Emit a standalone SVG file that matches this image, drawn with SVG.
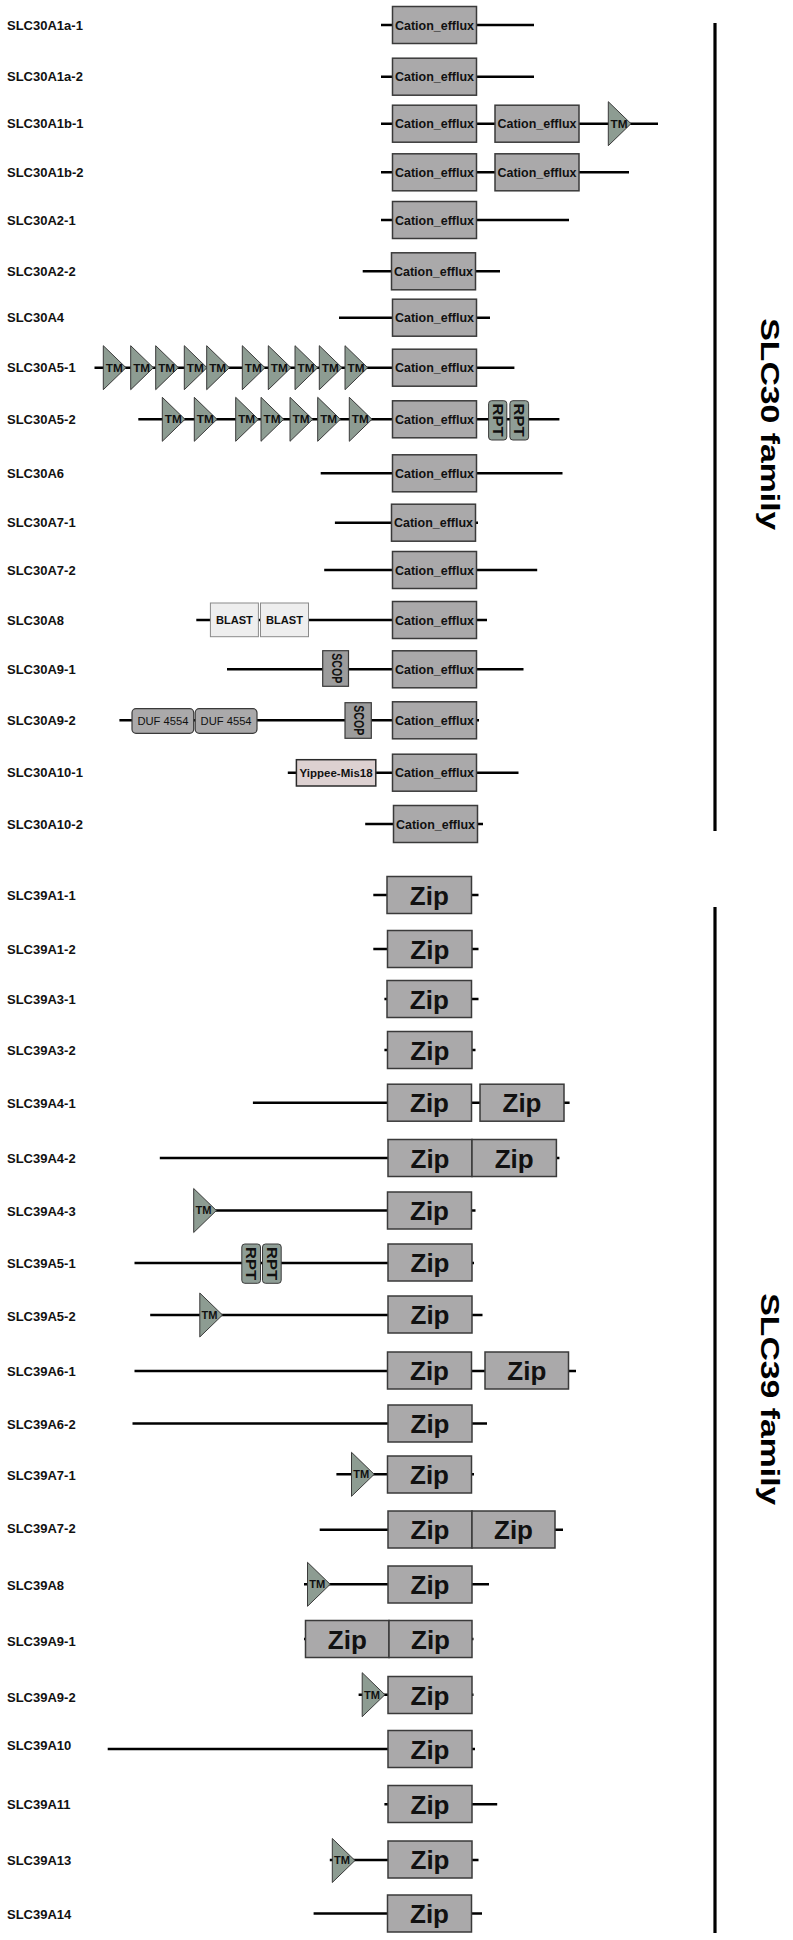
<svg xmlns="http://www.w3.org/2000/svg" xmlns:xlink="http://www.w3.org/1999/xlink" width="793" height="1940" viewBox="0 0 793 1940">
<style>
.lbl{font-family:"Liberation Sans",Arial,sans-serif;font-weight:bold;font-size:13px;fill:#111}
.bx{fill:#aaa9aa;stroke:#3a3a3a;stroke-width:1.5}
.ce{font-family:"Liberation Sans",Arial,sans-serif;font-weight:bold;font-size:12.5px;fill:#111;text-anchor:middle}
.zip{font-family:"Liberation Sans",Arial,sans-serif;font-weight:bold;font-size:26px;fill:#111;text-anchor:middle}
.ln{stroke:#000;stroke-width:2.6;fill:none}
.tm{fill:#8d9c92;stroke:#3a3a3a;stroke-width:1}
.tmt{font-family:"Liberation Sans",Arial,sans-serif;font-weight:bold;font-size:10.5px;fill:#111}
.rpt{fill:#8f9e96;stroke:#3a3a3a;stroke-width:1}
.rt{font-family:"Liberation Sans",Arial,sans-serif;font-weight:bold;font-size:14px;fill:#111}
.sm{font-family:"Liberation Sans",Arial,sans-serif;font-size:11px;fill:#111;text-anchor:middle}
.fam{font-family:"Liberation Sans",Arial,sans-serif;font-weight:bold;font-size:26px;fill:#000}
.bar{stroke:#000;stroke-width:3.2}
</style>
<defs>
<path id="tri" d="M0,-22 L22.7,0 L0,22 Z"/>
</defs>
<rect width="793" height="1940" fill="#fff"/>
<g id="connectors">
<line class="ln" x1="381" y1="25" x2="534" y2="25"/>
<line class="ln" x1="381" y1="76.7" x2="534" y2="76.7"/>
<line class="ln" x1="381" y1="123.7" x2="658" y2="123.7"/>
<line class="ln" x1="381" y1="172.3" x2="629" y2="172.3"/>
<line class="ln" x1="381" y1="220" x2="569" y2="220"/>
<line class="ln" x1="362.7" y1="271.3" x2="500" y2="271.3"/>
<line class="ln" x1="339" y1="317.7" x2="490" y2="317.7"/>
<line class="ln" x1="94.5" y1="367.7" x2="514.4" y2="367.7"/>
<line class="ln" x1="138.3" y1="419.3" x2="559.4" y2="419.3"/>
<line class="ln" x1="320.7" y1="473.3" x2="562.5" y2="473.3"/>
<line class="ln" x1="334.9" y1="522.7" x2="478" y2="522.7"/>
<line class="ln" x1="324.2" y1="570" x2="537.2" y2="570"/>
<line class="ln" x1="196.3" y1="620" x2="487" y2="620"/>
<line class="ln" x1="227" y1="669.3" x2="523.5" y2="669.3"/>
<line class="ln" x1="119.4" y1="720.3" x2="479" y2="720.3"/>
<line class="ln" x1="287.8" y1="772.7" x2="518.5" y2="772.7"/>
<line class="ln" x1="365.2" y1="824" x2="483" y2="824"/>
<line class="ln" x1="373.3" y1="895" x2="478.5" y2="895"/>
<line class="ln" x1="373.3" y1="949" x2="478.5" y2="949"/>
<line class="ln" x1="384.4" y1="999" x2="478.5" y2="999"/>
<line class="ln" x1="384.4" y1="1050" x2="475.5" y2="1050"/>
<line class="ln" x1="252.9" y1="1102.7" x2="569.6" y2="1102.7"/>
<line class="ln" x1="159.8" y1="1158" x2="559.4" y2="1158"/>
<line class="ln" x1="193.7" y1="1210.5" x2="475.5" y2="1210.5"/>
<line class="ln" x1="134.5" y1="1263" x2="474" y2="1263"/>
<line class="ln" x1="150.2" y1="1315" x2="482.5" y2="1315"/>
<line class="ln" x1="134.5" y1="1371" x2="576" y2="1371"/>
<line class="ln" x1="132.5" y1="1423.5" x2="487" y2="1423.5"/>
<line class="ln" x1="336.4" y1="1474.3" x2="474" y2="1474.3"/>
<line class="ln" x1="319.7" y1="1529.7" x2="563" y2="1529.7"/>
<line class="ln" x1="304" y1="1584.3" x2="489" y2="1584.3"/>
<line class="ln" x1="304" y1="1639" x2="473.5" y2="1639"/>
<line class="ln" x1="358.6" y1="1694.7" x2="473.5" y2="1694.7"/>
<line class="ln" x1="107.7" y1="1749" x2="475" y2="1749"/>
<line class="ln" x1="384.4" y1="1804.3" x2="497.2" y2="1804.3"/>
<line class="ln" x1="329.8" y1="1860" x2="478.5" y2="1860"/>
<line class="ln" x1="313.6" y1="1913.5" x2="482" y2="1913.5"/>
</g>

<g id="SLC30A1a-1">
<text class="lbl" x="7" y="29.5">SLC30A1a-1</text>
<rect class="bx" x="392.5" y="6.5" width="84" height="37"/>
<text class="ce" x="434.5" y="29.5" textLength="79" lengthAdjust="spacingAndGlyphs">Cation_efflux</text>
</g>
<g id="SLC30A1a-2">
<text class="lbl" x="7" y="81.2">SLC30A1a-2</text>
<rect class="bx" x="392.5" y="58.2" width="84" height="37"/>
<text class="ce" x="434.5" y="81.2" textLength="79" lengthAdjust="spacingAndGlyphs">Cation_efflux</text>
</g>
<g id="SLC30A1b-1">
<text class="lbl" x="7" y="128.2">SLC30A1b-1</text>
<rect class="bx" x="392.5" y="105.2" width="84" height="37"/>
<text class="ce" x="434.5" y="128.2" textLength="79" lengthAdjust="spacingAndGlyphs">Cation_efflux</text>
<rect class="bx" x="495" y="105.2" width="84" height="37"/>
<text class="ce" x="537" y="128.2" textLength="79" lengthAdjust="spacingAndGlyphs">Cation_efflux</text>
<use href="#tri" class="tm" x="608.3" y="123.7"/>
<text class="tmt" x="610.5" y="127.7" textLength="17" lengthAdjust="spacingAndGlyphs">TM</text>
</g>
<g id="SLC30A1b-2">
<text class="lbl" x="7" y="176.8">SLC30A1b-2</text>
<rect class="bx" x="392.5" y="153.8" width="84" height="37"/>
<text class="ce" x="434.5" y="176.8" textLength="79" lengthAdjust="spacingAndGlyphs">Cation_efflux</text>
<rect class="bx" x="495" y="153.8" width="84" height="37"/>
<text class="ce" x="537" y="176.8" textLength="79" lengthAdjust="spacingAndGlyphs">Cation_efflux</text>
</g>
<g id="SLC30A2-1">
<text class="lbl" x="7" y="224.5">SLC30A2-1</text>
<rect class="bx" x="392.5" y="201.5" width="84" height="37"/>
<text class="ce" x="434.5" y="224.5" textLength="79" lengthAdjust="spacingAndGlyphs">Cation_efflux</text>
</g>
<g id="SLC30A2-2">
<text class="lbl" x="7" y="275.8">SLC30A2-2</text>
<rect class="bx" x="391.5" y="252.8" width="84" height="37"/>
<text class="ce" x="433.5" y="275.8" textLength="79" lengthAdjust="spacingAndGlyphs">Cation_efflux</text>
</g>
<g id="SLC30A4">
<text class="lbl" x="7" y="322.2">SLC30A4</text>
<rect class="bx" x="392.5" y="299.2" width="84" height="37"/>
<text class="ce" x="434.5" y="322.2" textLength="79" lengthAdjust="spacingAndGlyphs">Cation_efflux</text>
</g>
<g id="SLC30A5-1">
<text class="lbl" x="7" y="372.2">SLC30A5-1</text>
<use href="#tri" class="tm" x="103.3" y="367.7"/><text class="tmt" x="105.8" y="371.7" textLength="17" lengthAdjust="spacingAndGlyphs">TM</text>
<use href="#tri" class="tm" x="130.7" y="367.7"/><text class="tmt" x="133.2" y="371.7" textLength="17" lengthAdjust="spacingAndGlyphs">TM</text>
<use href="#tri" class="tm" x="155.7" y="367.7"/><text class="tmt" x="158.2" y="371.7" textLength="17" lengthAdjust="spacingAndGlyphs">TM</text>
<use href="#tri" class="tm" x="184.3" y="367.7"/><text class="tmt" x="186.8" y="371.7" textLength="17" lengthAdjust="spacingAndGlyphs">TM</text>
<use href="#tri" class="tm" x="206.7" y="367.7"/><text class="tmt" x="209.2" y="371.7" textLength="17" lengthAdjust="spacingAndGlyphs">TM</text>
<use href="#tri" class="tm" x="242.3" y="367.7"/><text class="tmt" x="244.8" y="371.7" textLength="17" lengthAdjust="spacingAndGlyphs">TM</text>
<use href="#tri" class="tm" x="268.3" y="367.7"/><text class="tmt" x="270.8" y="371.7" textLength="17" lengthAdjust="spacingAndGlyphs">TM</text>
<use href="#tri" class="tm" x="295" y="367.7"/><text class="tmt" x="297.5" y="371.7" textLength="17" lengthAdjust="spacingAndGlyphs">TM</text>
<use href="#tri" class="tm" x="319.3" y="367.7"/><text class="tmt" x="321.8" y="371.7" textLength="17" lengthAdjust="spacingAndGlyphs">TM</text>
<use href="#tri" class="tm" x="345" y="367.7"/><text class="tmt" x="347.5" y="371.7" textLength="17" lengthAdjust="spacingAndGlyphs">TM</text>
<rect class="bx" x="392.5" y="349.2" width="84" height="37"/>
<text class="ce" x="434.5" y="372.2" textLength="79" lengthAdjust="spacingAndGlyphs">Cation_efflux</text>
</g>
<g id="SLC30A5-2">
<text class="lbl" x="7" y="423.8">SLC30A5-2</text>
<use href="#tri" class="tm" x="162.3" y="419.3"/><text class="tmt" x="164.8" y="423.3" textLength="17" lengthAdjust="spacingAndGlyphs">TM</text>
<use href="#tri" class="tm" x="194.3" y="419.3"/><text class="tmt" x="196.8" y="423.3" textLength="17" lengthAdjust="spacingAndGlyphs">TM</text>
<use href="#tri" class="tm" x="235.7" y="419.3"/><text class="tmt" x="238.2" y="423.3" textLength="17" lengthAdjust="spacingAndGlyphs">TM</text>
<use href="#tri" class="tm" x="261" y="419.3"/><text class="tmt" x="263.5" y="423.3" textLength="17" lengthAdjust="spacingAndGlyphs">TM</text>
<use href="#tri" class="tm" x="290" y="419.3"/><text class="tmt" x="292.5" y="423.3" textLength="17" lengthAdjust="spacingAndGlyphs">TM</text>
<use href="#tri" class="tm" x="317.7" y="419.3"/><text class="tmt" x="320.2" y="423.3" textLength="17" lengthAdjust="spacingAndGlyphs">TM</text>
<use href="#tri" class="tm" x="349.3" y="419.3"/><text class="tmt" x="351.8" y="423.3" textLength="17" lengthAdjust="spacingAndGlyphs">TM</text>
<rect class="bx" x="392.5" y="400.8" width="84" height="37"/>
<text class="ce" x="434.5" y="423.8" textLength="79" lengthAdjust="spacingAndGlyphs">Cation_efflux</text>
<rect class="rpt" x="488.6" y="400.7" width="18.2" height="39.3" rx="3"/>
<text class="rt" transform="translate(492.8,403.5) rotate(90)" textLength="33" lengthAdjust="spacingAndGlyphs">RPT</text>
<rect class="rpt" x="509.9" y="400.7" width="18.7" height="39.3" rx="3"/>
<text class="rt" transform="translate(514.3,403.5) rotate(90)" textLength="33" lengthAdjust="spacingAndGlyphs">RPT</text>
</g>
<g id="SLC30A6">
<text class="lbl" x="7" y="477.8">SLC30A6</text>
<rect class="bx" x="392.5" y="454.8" width="84" height="37"/>
<text class="ce" x="434.5" y="477.8" textLength="79" lengthAdjust="spacingAndGlyphs">Cation_efflux</text>
</g>
<g id="SLC30A7-1">
<text class="lbl" x="7" y="527.2">SLC30A7-1</text>
<rect class="bx" x="391.5" y="504.2" width="84" height="37"/>
<text class="ce" x="433.5" y="527.2" textLength="79" lengthAdjust="spacingAndGlyphs">Cation_efflux</text>
</g>
<g id="SLC30A7-2">
<text class="lbl" x="7" y="574.5">SLC30A7-2</text>
<rect class="bx" x="392.5" y="551.5" width="84" height="37"/>
<text class="ce" x="434.5" y="574.5" textLength="79" lengthAdjust="spacingAndGlyphs">Cation_efflux</text>
</g>
<g id="SLC30A8">
<text class="lbl" x="7" y="624.5">SLC30A8</text>
<rect x="210.4" y="603" width="48" height="33.7" fill="#eeeeee" stroke="#8a8a8a" stroke-width="1"/>
<text class="sm" x="234.4" y="624" font-weight="bold" textLength="37" lengthAdjust="spacingAndGlyphs">BLAST</text>
<rect x="260.5" y="603" width="48" height="33.7" fill="#eeeeee" stroke="#8a8a8a" stroke-width="1"/>
<text class="sm" x="284.5" y="624" font-weight="bold" textLength="37" lengthAdjust="spacingAndGlyphs">BLAST</text>
<rect class="bx" x="392.5" y="601.5" width="84" height="37"/>
<text class="ce" x="434.5" y="624.5" textLength="79" lengthAdjust="spacingAndGlyphs">Cation_efflux</text>
</g>
<g id="SLC30A9-1">
<text class="lbl" x="7" y="673.8">SLC30A9-1</text>
<rect x="322.7" y="650.7" width="25.8" height="35.6" fill="#9c9c9c" stroke="#3a3a3a" stroke-width="1.2"/>
<text class="rt" font-size="12" transform="translate(331.5,653.3) rotate(90)" textLength="30" lengthAdjust="spacingAndGlyphs">SCOP</text>
<rect class="bx" x="392.5" y="650.8" width="84" height="37"/>
<text class="ce" x="434.5" y="673.8" textLength="79" lengthAdjust="spacingAndGlyphs">Cation_efflux</text>
</g>
<g id="SLC30A9-2">
<text class="lbl" x="7" y="724.8">SLC30A9-2</text>
<rect x="132" y="708.7" width="61.7" height="24.6" rx="4" fill="#aaa9aa" stroke="#3a3a3a" stroke-width="1.2"/>
<text class="sm" x="162.9" y="724.8" textLength="51" lengthAdjust="spacingAndGlyphs">DUF 4554</text>
<rect x="195.2" y="708.7" width="61.8" height="24.6" rx="4" fill="#aaa9aa" stroke="#3a3a3a" stroke-width="1.2"/>
<text class="sm" x="226.1" y="724.8" textLength="51" lengthAdjust="spacingAndGlyphs">DUF 4554</text>
<rect x="345" y="702.7" width="26.3" height="35.6" fill="#9c9c9c" stroke="#3a3a3a" stroke-width="1.2"/>
<text class="rt" font-size="12" transform="translate(354,705.3) rotate(90)" textLength="30" lengthAdjust="spacingAndGlyphs">SCOP</text>
<rect class="bx" x="392.5" y="701.8" width="84" height="37"/>
<text class="ce" x="434.5" y="724.8" textLength="79" lengthAdjust="spacingAndGlyphs">Cation_efflux</text>
</g>
<g id="SLC30A10-1">
<text class="lbl" x="7" y="777.2">SLC30A10-1</text>
<rect x="296.4" y="759.7" width="79.4" height="26.3" fill="#ddd1d1" stroke="#2a2a2a" stroke-width="1.5"/>
<text class="sm" x="336.1" y="777" font-size="12" font-weight="bold" textLength="73" lengthAdjust="spacingAndGlyphs">Yippee-Mis18</text>
<rect class="bx" x="392.5" y="754.2" width="84" height="37"/>
<text class="ce" x="434.5" y="777.2" textLength="79" lengthAdjust="spacingAndGlyphs">Cation_efflux</text>
</g>
<g id="SLC30A10-2">
<text class="lbl" x="7" y="828.5">SLC30A10-2</text>
<rect class="bx" x="393.5" y="805.5" width="84" height="37"/>
<text class="ce" x="435.5" y="828.5" textLength="79" lengthAdjust="spacingAndGlyphs">Cation_efflux</text>
</g>

<g id="SLC39A1-1">
<text class="lbl" x="7" y="900">SLC39A1-1</text>
<rect class="bx" x="387" y="876.5" width="84.5" height="37"/>
<text class="zip" x="429.3" y="904.5">Zip</text>
</g>
<g id="SLC39A1-2">
<text class="lbl" x="7" y="954">SLC39A1-2</text>
<rect class="bx" x="387.5" y="930.5" width="84.5" height="37"/>
<text class="zip" x="429.8" y="958.5">Zip</text>
</g>
<g id="SLC39A3-1">
<text class="lbl" x="7" y="1003.5">SLC39A3-1</text>
<rect class="bx" x="387" y="980.5" width="84.5" height="37"/>
<text class="zip" x="429.3" y="1008.5">Zip</text>
</g>
<g id="SLC39A3-2">
<text class="lbl" x="7" y="1054.5">SLC39A3-2</text>
<rect class="bx" x="387.5" y="1031.5" width="84.5" height="37"/>
<text class="zip" x="429.8" y="1059.5">Zip</text>
</g>
<g id="SLC39A4-1">
<text class="lbl" x="7" y="1107.5">SLC39A4-1</text>
<rect class="bx" x="387.5" y="1084.2" width="84" height="37"/>
<text class="zip" x="429.5" y="1112.2">Zip</text>
<rect class="bx" x="480" y="1084.2" width="84" height="37"/>
<text class="zip" x="522" y="1112.2">Zip</text>
</g>
<g id="SLC39A4-2">
<text class="lbl" x="7" y="1162.5">SLC39A4-2</text>
<rect class="bx" x="388" y="1139.5" width="84" height="37"/>
<text class="zip" x="430" y="1167.5">Zip</text>
<rect class="bx" x="472" y="1139.5" width="84.4" height="37"/>
<text class="zip" x="514.2" y="1167.5">Zip</text>
</g>
<g id="SLC39A4-3">
<text class="lbl" x="7" y="1215.5">SLC39A4-3</text>
<use href="#tri" class="tm" x="193.7" y="1210.5"/><text class="tmt" x="195.5" y="1214.3" font-weight="normal" textLength="16" lengthAdjust="spacingAndGlyphs">TM</text>
<rect class="bx" x="387.5" y="1192" width="84" height="37"/>
<text class="zip" x="429.5" y="1220">Zip</text>
</g>
<g id="SLC39A5-1">
<text class="lbl" x="7" y="1268">SLC39A5-1</text>
<rect class="rpt" x="241.8" y="1244" width="18.7" height="39.3" rx="3"/>
<text class="rt" transform="translate(246.2,1247) rotate(90)" textLength="33" lengthAdjust="spacingAndGlyphs">RPT</text>
<rect class="rpt" x="262.5" y="1244" width="18.7" height="39.3" rx="3"/>
<text class="rt" transform="translate(266.9,1247) rotate(90)" textLength="33" lengthAdjust="spacingAndGlyphs">RPT</text>
<rect class="bx" x="388" y="1244" width="84" height="37"/>
<text class="zip" x="430" y="1272">Zip</text>
</g>
<g id="SLC39A5-2">
<text class="lbl" x="7" y="1321">SLC39A5-2</text>
<use href="#tri" class="tm" x="199.8" y="1315"/><text class="tmt" x="201.6" y="1318.8" font-weight="normal" textLength="16" lengthAdjust="spacingAndGlyphs">TM</text>
<rect class="bx" x="388" y="1296" width="84" height="37"/>
<text class="zip" x="430" y="1324">Zip</text>
</g>
<g id="SLC39A6-1">
<text class="lbl" x="7" y="1376.2">SLC39A6-1</text>
<rect class="bx" x="387.5" y="1352" width="84" height="37"/>
<text class="zip" x="429.5" y="1380">Zip</text>
<rect class="bx" x="485" y="1352" width="83.5" height="37"/>
<text class="zip" x="526.8" y="1380">Zip</text>
</g>
<g id="SLC39A6-2">
<text class="lbl" x="7" y="1428.5">SLC39A6-2</text>
<rect class="bx" x="388" y="1405" width="84" height="37"/>
<text class="zip" x="430" y="1433">Zip</text>
</g>
<g id="SLC39A7-1">
<text class="lbl" x="7" y="1480">SLC39A7-1</text>
<use href="#tri" class="tm" x="351.5" y="1474.3"/><text class="tmt" x="353.3" y="1478.1" font-weight="normal" textLength="16" lengthAdjust="spacingAndGlyphs">TM</text>
<rect class="bx" x="387.5" y="1456" width="84" height="37"/>
<text class="zip" x="429.5" y="1484">Zip</text>
</g>
<g id="SLC39A7-2">
<text class="lbl" x="7" y="1532.8">SLC39A7-2</text>
<rect class="bx" x="388" y="1511" width="84" height="37"/>
<text class="zip" x="430" y="1539">Zip</text>
<rect class="bx" x="472" y="1511" width="83" height="37"/>
<text class="zip" x="513.5" y="1539">Zip</text>
</g>
<g id="SLC39A8">
<text class="lbl" x="7" y="1589.5">SLC39A8</text>
<use href="#tri" class="tm" x="307.5" y="1584.3"/><text class="tmt" x="309.3" y="1588.1" font-weight="normal" textLength="16" lengthAdjust="spacingAndGlyphs">TM</text>
<rect class="bx" x="388" y="1566" width="84" height="37"/>
<text class="zip" x="430" y="1594">Zip</text>
</g>
<g id="SLC39A9-1">
<text class="lbl" x="7" y="1645.5">SLC39A9-1</text>
<rect class="bx" x="305.5" y="1620.5" width="83.5" height="37"/>
<text class="zip" x="347.3" y="1648.5">Zip</text>
<rect class="bx" x="389" y="1620.5" width="83" height="37"/>
<text class="zip" x="430.5" y="1648.5">Zip</text>
</g>
<g id="SLC39A9-2">
<text class="lbl" x="7" y="1701.5">SLC39A9-2</text>
<use href="#tri" class="tm" x="362.2" y="1694.7"/><text class="tmt" x="364" y="1698.5" font-weight="normal" textLength="16" lengthAdjust="spacingAndGlyphs">TM</text>
<rect class="bx" x="388" y="1676.5" width="84" height="37"/>
<text class="zip" x="430" y="1704.5">Zip</text>
</g>
<g id="SLC39A10">
<text class="lbl" x="7" y="1750">SLC39A10</text>
<rect class="bx" x="388" y="1730.5" width="84" height="37"/>
<text class="zip" x="430" y="1758.5">Zip</text>
</g>
<g id="SLC39A11">
<text class="lbl" x="7" y="1809">SLC39A11</text>
<rect class="bx" x="388" y="1785.5" width="84" height="37"/>
<text class="zip" x="430" y="1813.5">Zip</text>
</g>
<g id="SLC39A13">
<text class="lbl" x="7" y="1865.2">SLC39A13</text>
<use href="#tri" class="tm" x="332.3" y="1860.5"/><text class="tmt" x="334.1" y="1864.3" font-weight="normal" textLength="16" lengthAdjust="spacingAndGlyphs">TM</text>
<rect class="bx" x="388" y="1841" width="84" height="37"/>
<text class="zip" x="430" y="1869">Zip</text>
</g>
<g id="SLC39A14">
<text class="lbl" x="7" y="1918.5">SLC39A14</text>
<rect class="bx" x="387.5" y="1895" width="84" height="37"/>
<text class="zip" x="429.5" y="1923">Zip</text>
</g>

<g id="SLC30-family">
<line class="bar" x1="715" y1="23" x2="715" y2="831"/>
<text class="fam" transform="translate(760.5,318.3) rotate(90)" textLength="212" lengthAdjust="spacingAndGlyphs">SLC30 family</text>
</g>
<g id="SLC39-family">
<line class="bar" x1="715" y1="907" x2="715" y2="1933"/>
<text class="fam" transform="translate(760.5,1293.3) rotate(90)" textLength="212" lengthAdjust="spacingAndGlyphs">SLC39 family</text>
</g>
</svg>
